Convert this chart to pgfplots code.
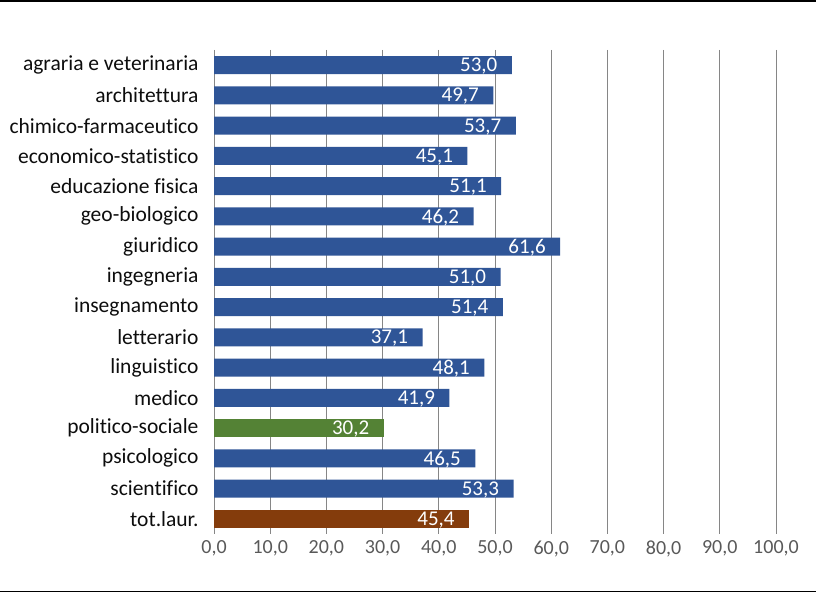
\documentclass[border=0pt]{standalone}
\usepackage{pgfplots}
\pgfplotsset{compat=1.18}
\usepackage{fontspec}
\setmainfont{Carlito}[Ligatures={NoCommon}]
\definecolor{barblue}{HTML}{2F5597}
\definecolor{bargreen}{HTML}{548235}
\definecolor{barbrown}{HTML}{843C0C}
\definecolor{gridgray}{HTML}{868686}
\definecolor{ticktext}{HTML}{595959}
\begin{document}
\begin{tikzpicture}[x=1pt,y=1pt]
\path[use as bounding box] (0,0) rectangle (816,593);
\draw[line width=1.5pt] (0,592) -- (816,592);
\draw[line width=1.5pt] (0,1.5) -- (816,1.5);
\begin{axis}[at={(214pt,59pt)}, anchor=south west, scale only axis,
  width=562pt, height=484pt,
  xmin=0, xmax=100, ymin=-0.5, ymax=15.5, y dir=reverse,
  xbar, bar width=18pt, bar shift=0pt,
  axis line style={draw=none}, major tick length=0pt,
  xmajorgrids, grid style={gridgray, line width=0.8pt},
  xtick={0,10,...,100},
  xticklabels={{0,0},{10,0},{20,0},{30,0},{40,0},{50,0},{60,0},{70,0},{80,0},{90,0},{100,0}},
  xticklabel style={font=\fontsize{20}{22}\selectfont, text=ticktext, yshift=-3pt},
  ytick={0,...,15},
  yticklabels={agraria e veterinaria,architettura,chimico-farmaceutico,economico-statistico,educazione fisica,geo-biologico,giuridico,ingegneria,insegnamento,letterario,linguistico,medico,politico-sociale,psicologico,scientifico,tot.laur.},
  yticklabel style={font=\fontsize{21.5}{23}\selectfont, text=black!95, xshift=-12pt},
  nodes near coords, point meta=x,
  nodes near coords style={anchor=east, text=white, font=\fontsize{21}{22}\selectfont, xshift=-11pt, yshift=-1pt,
    /pgf/number format/.cd, fixed, fixed zerofill, precision=1, use comma, assume math mode=true},
  clip=false,
]
\addplot[fill=barblue, draw=none] coordinates {
(53.0,0) (49.7,1) (53.7,2) (45.1,3) (51.1,4) (46.2,5) (61.6,6) (51.0,7) (51.4,8) (37.1,9) (48.1,10) (41.9,11) (46.5,13) (53.3,14)};
\addplot[fill=bargreen, draw=none] coordinates {(30.2,12)};
\addplot[fill=barbrown, draw=none] coordinates {(45.4,15)};
\end{axis}
\end{tikzpicture}
\end{document}
